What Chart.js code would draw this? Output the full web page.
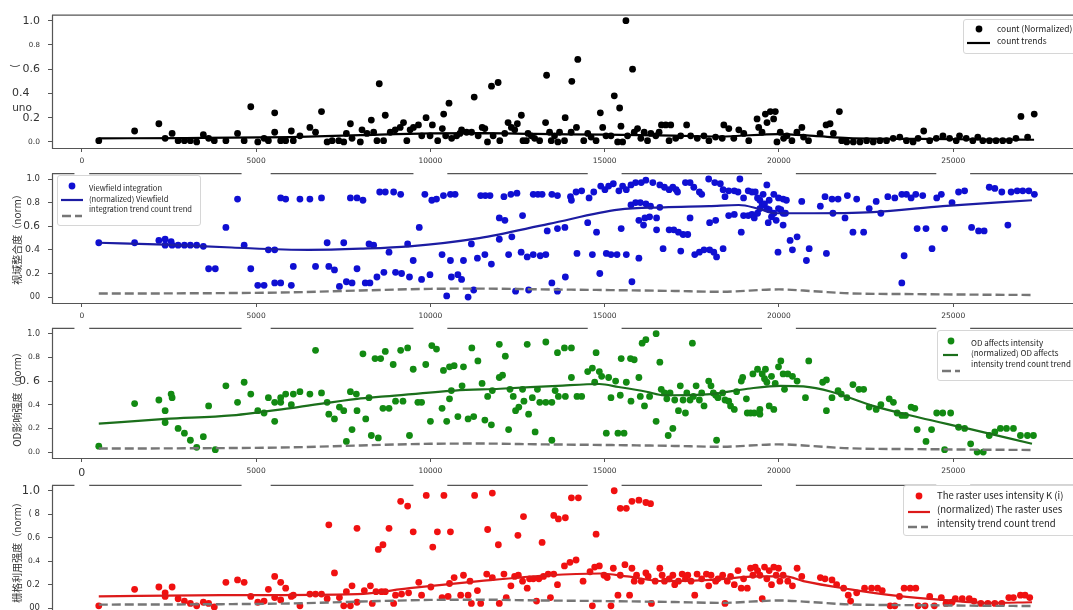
<!DOCTYPE html>
<html>
<head>
<meta charset="utf-8">
<script src="https://cdn.jsdelivr.net/npm/chart.js@4.4.1/dist/chart.umd.min.js"></script>
<style>
  body { margin: 0; background: #fff; overflow: hidden; width: 1073px; height: 610px; position: relative; }
  canvas { position: absolute; left: 0; }
</style>
</head>
<body>
<canvas id="p1" width="1085" height="172" style="top:0px;z-index:4"></canvas>
<canvas id="p2" width="1085" height="167" style="top:160px;z-index:3"></canvas>
<canvas id="p3" width="1085" height="167" style="top:315px;z-index:2"></canvas>
<canvas id="p4" width="1085" height="168" style="top:470px;z-index:1"></canvas>
<script>
// shared axes
var xTicks = [0, 5000, 10000, 15000, 20000, 25000];
var yTicks = [0, 0.2, 0.4, 0.6, 0.8, 1.0];

// count (normalized) per position
var countPts = [[486,0.01],[1514,0.09],[2210,0.15],[2390,0.03],[2590,0.07],[2762,0.01],[2943,0.01],[3114,0.01],[3295,0.00],[3486,0.06],[3638,0.03],[3800,0.01],[4133,0.01],[4467,0.07],[4657,0.01],[4847,0.29],[5048,0.00],[5228,0.03],[5352,0.01],[5533,0.24],[5533,0.08],[5705,0.01],[5848,0.01],[6010,0.09],[6067,0.01],[6257,0.05],[6543,0.12],[6705,0.08],[6876,0.25],[7038,0.00],[7181,0.01],[7371,0.01],[7514,0.00],[7590,0.07],[7705,0.15],[7752,0.03],
 [7990,0.00],[8038,0.10],[8181,0.07],[8305,0.18],[8372,0.08],[8467,0.01],[8533,0.48],[8657,0.01],[8705,0.22],[8848,0.08],[8991,0.10],[9134,0.12],[9229,0.16],[9324,0.01],[9419,0.10],[9514,0.12],[9657,0.14],[9753,0.05],[9876,0.20],[9991,0.05],[10057,0.14],[10210,0.01],[10343,0.11],[10381,0.23],[10438,0.05],[10534,0.32],[10610,0.03],[10753,0.05],[10848,0.07],[10895,0.10],[11038,0.08],[11181,0.08],[11257,0.37],[11371,0.05],[11486,0.12],[11562,0.11],[11638,0.00],[11753,0.46],[11800,0.05],[11943,0.49],[11991,0.01],[12134,0.07],[12229,0.16],[12324,0.12],[12419,0.10],[12495,0.15],[12610,0.22],[12657,0.01],[12752,0.01],[12800,0.07],[12895,0.05],[12991,0.03],[13134,0.01],[13305,0.16],[13334,0.55],[13419,0.08],[13467,0.01],[13562,0.05],[13657,0.00],[13705,0.08],[13848,0.01],[13867,0.20],[14038,0.08],[14057,0.50],[14191,0.12],[14229,0.68],[14400,0.01],[14515,0.07],[14610,0.04],[14753,0.01],[14876,0.24],[14943,0.12],[15038,0.05],[15181,0.05],[15276,0.38],[15372,0.00],[15429,0.28],[15467,0.13],[15515,0.00],[15610,1.00],[15657,0.05],[15800,0.60],[15848,0.08],[15943,0.11],[16038,0.03],[16134,0.08],[16229,0.01],[16324,0.07],[16467,0.05],[16562,0.08],[16629,0.14],[16753,0.14],[16848,0.01],[16896,0.14],[17038,0.03],[17181,0.05],[17352,0.14],[17467,0.05],[17657,0.03],[17848,0.05],[17991,0.01],[18181,0.04],
 [18372,0.03],[18419,0.14],[18562,0.11],[18705,0.03],[18848,0.10],[18991,0.07],[19134,0.01],[19372,0.19],[19419,0.12],[19515,0.08],[19610,0.23],[19657,0.16],[19753,0.25],[19848,0.19],[19896,0.25],[19943,0.00],[20038,0.08],[20134,0.03],[20229,0.05],[20372,0.01],[20515,0.08],[20658,0.12],[20705,0.04],[20848,0.01],[21181,0.07],[21353,0.14],[21467,0.15],[21562,0.07],[21734,0.25],[21800,0.01],[21943,0.00],[22134,0.00],[22324,0.00],[22515,0.01],[22705,0.00],[22896,0.01],[23086,0.01],[23277,0.03],[23467,0.04],[23658,0.01],[23848,0.00],[23991,0.03],[24153,0.09],[24324,0.01],[24515,0.03],[24705,0.05],[24896,0.03],[25086,0.01],[25181,0.05],[25372,0.03],[25562,0.01],[25705,0.04],[25848,0.01],[26039,0.01],[26229,0.01],[26420,0.01],[26610,0.01],[26800,0.03],[26943,0.21],[27134,0.04],[27324,0.23]];
var countTrend = [[486,0.03],[3000,0.032],[6000,0.04],[8000,0.056],[10000,0.07],[11500,0.072],[13000,0.066],[15000,0.06],[17000,0.052],[18300,0.045],[20000,0.065],[21000,0.05],[22000,0.032],[24000,0.025],[26000,0.02],[27320,0.018]];

// 视域整合度
var viewPts = [[486,0.46],[1514,0.46],[2210,0.48],[2390,0.49],[2390,0.44],[2562,0.47],[2590,0.44],[2762,0.44],[2943,0.44],[3114,0.44],[3295,0.44],[3486,0.43],[3638,0.24],[3829,0.24],[4133,0.59],[4467,0.83],[4657,0.44],[4847,0.24],[5048,0.10],[5228,0.10],[5352,0.40],[5533,0.40],[5533,0.12],[5705,0.84],[5705,0.12],[5848,0.83],[6010,0.10],[6067,0.26],[6257,0.83],[6543,0.83],[6705,0.26],[6876,0.84],[7038,0.46],[7086,0.26],[7248,0.23],[7390,0.09],[7514,0.46],[7590,0.13],[7705,0.84],[7752,0.12],[7895,0.84],[7895,0.24],
 [8065,0.82],[8546,0.89],[8706,0.89],[8946,0.89],[9147,0.87],[9841,0.87],[10041,0.82],[10175,0.83],[10375,0.86],[10575,0.87],[10709,0.87],[11443,0.86],[11576,0.86],[11710,0.86],[12110,0.85],[12310,0.87],[12484,0.88],[12951,0.87],[13085,0.87],[13205,0.87],[13485,0.87],[13646,0.86],[14019,0.85],[14046,0.82],[14180,0.89],[14340,0.90],[14553,0.84],[14687,0.89],[14887,0.94],[15007,0.91],[15114,0.94],[15248,0.96],[15408,0.90],[15515,0.94],[15621,0.91],[15755,0.95],[15888,0.97],[16049,0.97],[16182,0.99],[16382,0.97],[16583,0.95],[16716,0.93],[16850,0.91],[16956,0.93],[17050,0.91],[17090,0.89],[17317,0.97],[17450,0.97],[17557,0.93],[17717,0.89],[17784,0.87],[17984,1.00],[18158,0.97],[18318,0.96],[18398,0.91],[18452,0.85],[18558,0.90],[18719,0.90],[18825,0.89],[18879,1.00],[18985,0.84],[19119,0.90],[19225,0.89],[19320,0.89],[19386,0.84],[19453,0.82],[19546,0.87],[19653,0.95],[19720,0.82],[19853,0.87],[19987,0.84],[20120,0.83],[20214,0.82],[20654,0.81],[21188,0.77],[21322,0.85],[21522,0.83],[21696,0.83],[21963,0.86],[22230,0.83],[22590,0.75],[22790,0.81],[23124,0.85],[23324,0.84],[23525,0.87],[23658,0.87],[23792,0.84],[23925,0.87],[24125,0.86],[24526,0.84],[24659,0.87],[24966,0.80],[25153,0.89],[25327,0.90],[26034,0.93],[26194,0.92],[26394,0.89],[26661,0.89],[26835,0.90],[26995,0.90],[27169,0.90],[27329,0.87],
 [11977,0.67],[12137,0.65],[12644,0.69],[15755,0.78],[15888,0.80],[16022,0.80],[16182,0.79],[16316,0.77],[16583,0.76],[15982,0.65],[16155,0.67],[16289,0.68],[16489,0.67],[17450,0.67],[18011,0.63],[18185,0.65],[18558,0.69],[18719,0.70],[18985,0.69],[19119,0.69],[19225,0.70],[19292,0.67],[19386,0.71],[19453,0.75],[19520,0.78],[19586,0.79],[19653,0.75],[19720,0.74],[19786,0.68],[19853,0.71],[19920,0.65],[19987,0.75],[20054,0.74],[20120,0.71],[20187,0.71],[21549,0.71],[21896,0.67],[22924,0.71],
 [9681,0.59],[13352,0.56],[13646,0.58],[13859,0.59],[14513,0.63],[14767,0.55],[15474,0.58],[16115,0.61],[16489,0.57],[16850,0.57],[16983,0.57],[17117,0.55],[17250,0.53],[17384,0.53],[18919,0.55],[19693,0.63],[20120,0.61],[22123,0.55],[22430,0.55],[23965,0.58],[24219,0.58],[24753,0.58],[25527,0.59],[25727,0.56],[25887,0.56],[26568,0.61],
 [8239,0.45],[8372,0.44],[8813,0.38],[9347,0.45],[9507,0.31],[10335,0.36],[10575,0.31],[10949,0.31],[11176,0.45],[11349,0.33],[11563,0.36],[11750,0.28],[11977,0.49],[12244,0.36],[12337,0.51],[12604,0.38],[12778,0.34],[12951,0.36],[13152,0.35],[13312,0.36],[14206,0.37],[14647,0.36],[15047,0.37],[15181,0.36],[15354,0.36],[15621,0.36],[15982,0.33],[16676,0.41],[17183,0.39],[17584,0.36],[17717,0.38],[17851,0.40],[18011,0.40],[18131,0.38],[18211,0.34],[18398,0.41],[19973,0.38],[20320,0.48],[20387,0.40],[20521,0.51],[20788,0.31],[20868,0.41],[21362,0.37],[23591,0.35],[24392,0.41],
 [8132,0.12],[8265,0.12],[8466,0.17],[8666,0.21],[9000,0.21],[9173,0.20],[9400,0.17],[9747,0.15],[9988,0.19],[10602,0.17],[10789,0.19],[10895,0.15],[13485,0.12],[13872,0.17],[14860,0.20],[15782,0.13],[23525,0.12],
 [10468,0.01],[11082,0.00],[11242,0.06],[12444,0.05],[12818,0.06],[13646,0.05]];
var viewTrend = [[486,0.46],[2400,0.445],[4300,0.42],[6500,0.40],[8000,0.41],[9400,0.43],[11400,0.50],[13400,0.62],[15400,0.74],[16700,0.76],[18000,0.77],[18850,0.78],[19400,0.75],[19900,0.71],[20700,0.71],[22700,0.72],[24700,0.77],[27260,0.82]];

// OD影响强度
var odPts = [[486,0.05],[1514,0.41],[2210,0.44],[2390,0.35],[2390,0.25],[2562,0.49],[2590,0.46],[2762,0.20],[2943,0.16],[3114,0.10],[3295,0.04],[3486,0.13],[3638,0.39],[3829,0.02],[4133,0.56],[4467,0.42],[4657,0.59],[4847,0.49],[5048,0.35],[5228,0.33],[5352,0.46],[5533,0.42],[5533,0.26],[5705,0.46],[5705,0.42],[5848,0.49],[6010,0.40],[6067,0.49],[6257,0.51],[6543,0.49],[6705,0.86],[6876,0.50],[7038,0.42],[7086,0.32],[7248,0.28],[7390,0.38],[7514,0.35],[7590,0.09],[7705,0.51],[7752,0.19],[7876,0.49],[7895,0.35],
 [8065,0.83],[8145,0.28],[8239,0.46],[8306,0.14],[8412,0.79],[8506,0.12],[8573,0.79],[8639,0.37],[8706,0.85],[8813,0.37],[8933,0.74],[9000,0.43],[9147,0.86],[9213,0.43],[9347,0.88],[9400,0.14],[9507,0.70],[9641,0.42],[9747,0.42],[9867,0.74],[10001,0.26],[10041,0.90],[10175,0.87],[10335,0.37],[10375,0.69],[10468,0.26],[10548,0.45],[10548,0.72],[10602,0.52],[10682,0.73],[10789,0.30],[10909,0.56],[10949,0.72],[11082,0.28],[11189,0.88],[11242,0.30],[11363,0.77],[11483,0.58],[11563,0.27],[11643,0.47],[11750,0.23],[11777,0.52],[11977,0.63],[11977,0.91],[12070,0.65],[12150,0.81],[12244,0.19],[12284,0.53],[12377,0.47],[12444,0.35],[12537,0.38],[12644,0.53],[12684,0.43],[12778,0.91],[12818,0.32],[12925,0.46],[13005,0.17],[13071,0.53],[13138,0.42],[13312,0.93],[13312,0.42],[13485,0.42],[13485,0.10],[13579,0.52],[13646,0.84],[13672,0.47],[13846,0.88],[13872,0.47],[14046,0.88],[14046,0.63],[14206,0.47],[14340,0.47],[14513,0.68],[14647,0.71],[14714,0.59],[14754,0.84],[14847,0.68],[14914,0.64],[15047,0.16],[15114,0.63],[15181,0.46],[15314,0.60],[15381,0.16],[15448,0.48],[15474,0.79],[15555,0.16],[15621,0.59],[15741,0.79],[15755,0.43],[15848,0.78],[15982,0.63],[16022,0.47],[16075,0.92],[16142,0.39],[16182,0.95],[16289,0.47],[16476,1.00],[16476,0.26],[16583,0.76],[16623,0.53],[16716,0.50],[16783,0.45],[16823,0.14],[16876,0.50],[16956,0.20],[17010,0.44],[17117,0.35],[17170,0.56],[17250,0.44],[17317,0.33],[17357,0.50],[17450,0.44],[17517,0.92],[17544,0.47],[17624,0.56],[17717,0.44],[17784,0.50],[17851,0.39],[17984,0.60],[18051,0.56],[18118,0.50],[18185,0.48],[18211,0.10],[18251,0.46],[18385,0.50],[18452,0.44],[18558,0.43],[18612,0.39],[18719,0.36],[18785,0.51],[18919,0.60],[18959,0.63],[19066,0.45],[19092,0.33],[19186,0.33],[19253,0.66],[19292,0.33],[19386,0.70],[19453,0.36],[19453,0.32],[19520,0.66],[19586,0.62],[19613,0.70],[19653,0.59],[19720,0.39],[19786,0.64],[19853,0.36],[19893,0.58],[19987,0.72],[20054,0.77],[20120,0.66],[20160,0.53],[20254,0.66],[20387,0.64],[20521,0.60],[20761,0.46],[20855,0.77],[21255,0.59],[21362,0.61],[21362,0.35],[21522,0.46],[21696,0.52],[21789,0.49],[21949,0.46],[22123,0.57],[22296,0.53],[22430,0.53],[22590,0.38],[22790,0.36],[22924,0.40],[23164,0.45],[23284,0.42],[23391,0.33],[23525,0.31],[23631,0.31],[23792,0.38],[23898,0.37],[23965,0.19],[24219,0.09],[24379,0.19],[24526,0.33],[24699,0.33],[24753,0.02],[24926,0.33],[25153,0.21],[25327,0.20],[25500,0.07],[25687,0.00],[25861,0.00],[26034,0.14],[26194,0.17],[26354,0.20],[26528,0.20],[26728,0.20],[26928,0.14],[27129,0.14],[27302,0.14]];
var odTrend = [[486,0.24],[2400,0.28],[4300,0.31],[6200,0.38],[7900,0.45],[8700,0.47],[10700,0.52],[12000,0.535],[13650,0.56],[14850,0.575],[15400,0.55],[16200,0.51],[16700,0.48],[18050,0.49],[19100,0.535],[20050,0.56],[20700,0.555],[21500,0.51],[22700,0.39],[24050,0.29],[25400,0.20],[27260,0.07]];

// 栅格利用强度
var rasterPts = [[486,0.02],[1514,0.16],[2210,0.18],[2390,0.13],[2390,0.10],[2590,0.18],[2762,0.08],[2943,0.06],[3114,0.04],[3295,0.02],[3486,0.05],[3638,0.04],[3800,0.01],[4133,0.22],[4467,0.24],[4657,0.22],[4847,0.10],[5048,0.05],[5228,0.06],[5352,0.16],[5533,0.27],[5533,0.09],[5705,0.22],[5705,0.07],[5848,0.17],[6010,0.10],[6067,0.11],[6257,0.02],[6543,0.12],[6705,0.12],[6876,0.12],[7038,0.08],[7086,0.71],[7248,0.30],[7390,0.09],[7514,0.02],[7590,0.14],[7705,0.02],[7752,0.19],[7895,0.68],[7895,0.05],
 [8506,0.50],[8639,0.54],[8813,0.68],[9147,0.91],[9347,0.87],[9507,0.65],[9881,0.96],[10068,0.52],[10201,0.65],[10388,0.96],[10575,0.65],[11269,0.96],[11643,0.67],[11777,0.98],[11950,0.54],[12511,0.62],[12671,0.78],[13205,0.56],[13539,0.79],[13672,0.76],[13872,0.77],[14046,0.94],[14246,0.94],[14754,0.63],[15274,1.00],[15448,0.85],[15621,0.85],[15782,0.91],[15982,0.92],[16182,0.90],[16316,0.89],
 [8105,0.15],[8279,0.19],[8332,0.04],[8439,0.14],[8599,0.14],[8706,0.14],[8946,0.04],[9000,0.11],[9173,0.12],[9374,0.13],[9667,0.22],[9747,0.11],[10014,0.18],[10335,0.09],[10508,0.10],[10548,0.21],[10682,0.26],[10869,0.11],[10949,0.28],[11082,0.11],[11136,0.23],[11176,0.04],[11349,0.15],[11443,0.04],[11616,0.29],[11777,0.26],[11977,0.04],[12110,0.29],[12177,0.09],[12310,0.19],[12417,0.27],[12524,0.28],[12644,0.23],[12778,0.17],[12845,0.25],[12951,0.25],[13045,0.06],[13112,0.25],[13245,0.27],[13379,0.29],[13445,0.09],[13539,0.29],[13646,0.20],[13846,0.36],[14006,0.39],[14180,0.41],[14380,0.23],[14580,0.31],[14647,0.02],[14714,0.35],[14847,0.36],[14981,0.28],[15074,0.26],[15181,0.02],[15248,0.34],[15381,0.11],[15448,0.28],[15581,0.37],[15715,0.11],[15782,0.34],[15848,0.23],[15915,0.28],[16049,0.23],[16182,0.30],[16249,0.27],[16342,0.04],[16449,0.23],[16583,0.34],[16649,0.28],[16716,0.23],[16850,0.25],[16956,0.28],[17010,0.20],[17117,0.23],[17223,0.29],[17317,0.25],[17384,0.28],[17477,0.23],[17584,0.11],[17651,0.29],[17784,0.25],[17918,0.29],[17984,0.19],[18051,0.28],[18185,0.23],[18251,0.25],[18385,0.28],[18452,0.04],[18518,0.23],[18612,0.27],[18719,0.20],[18825,0.32],[18919,0.17],[18985,0.25],[19092,0.17],[19186,0.34],[19253,0.28],[19320,0.35],[19386,0.32],[19453,0.28],[19520,0.08],[19586,0.35],[19653,0.25],[19720,0.32],[19786,0.20],[19853,0.35],[19920,0.28],[19987,0.34],[20027,0.23],[20120,0.28],[20254,0.23],[20387,0.19],[20521,0.34],[20654,0.27],[21188,0.26],[21322,0.25],[21522,0.24],[21655,0.20],[21856,0.17],[21989,0.11],[22056,0.06],[22230,0.13],[22457,0.17],[22657,0.17],[22830,0.17],[22964,0.15],[23191,0.02],[23324,0.02],[23458,0.10],[23591,0.17],[23765,0.17],[23925,0.17],[23992,0.02],[24192,0.02],[24325,0.10],[24459,0.02],[24659,0.09],[24793,0.04],[24966,0.05],[25060,0.08],[25260,0.08],[25460,0.08],[25594,0.06],[25794,0.04],[25994,0.04],[26194,0.04],[26394,0.04],[26595,0.09],[26728,0.09],[26928,0.11],[27061,0.11],[27195,0.09]];
var rasterTrend = [[486,0.10],[4000,0.11],[7900,0.12],[9400,0.17],[11400,0.23],[13400,0.28],[14850,0.295],[15650,0.27],[16700,0.23],[18050,0.24],[19400,0.27],[20200,0.27],[20700,0.23],[22050,0.16],[23400,0.105],[24700,0.07],[26050,0.045],[27260,0.05]];

// tick texts, bottom to top
var yLabels1 = ['0.0', '0.2', '0.4   ', '0.6', '0.8', '1.0'];
var yLabels2 = ['00', '0.2', '0.4', '0.6', '0.8', '1.0'];
var yLabels3 = ['0.0', '0.2', '0.4', '0. 6', '0.8', '1.0'];
var yLabels4 = ['00', '0.2', '0.4', '0.6', '( 8', '1.0'];

var legend1 = ['count (Normalized)', 'count trends'];
var legend2 = ['Viewfield integration', '(normalized) Viewfield', 'integration trend count trend'];
var legend3 = ['OD affects intensity', '(normalized) OD affects', 'intensity trend count trend'];
var legend4 = ['The raster uses intensity K (i)', '(normalized) The raster uses', 'intensity trend count trend'];

var titles = ['视域整合度（norm）', 'OD影响强度（norm）', '栅格利用强度（norm）'];

var xMin = -856, xMax = 28666;
var CJK = '"Noto Sans CJK SC"';

function pts(a) { return a.map(function (p) { return { x: p[0], y: p[1] }; }); }

function dots(a, color) {
  return { data: pts(a), backgroundColor: color, borderWidth: 0, pointRadius: 3.4, order: 2 };
}
function trend(a, color, width, dash) {
  return { data: pts(a), showLine: true, borderColor: color, borderWidth: width, borderDash: dash || [],
           pointRadius: 0, cubicInterpolationMode: 'monotone', order: 1 };
}

// axes box; panels below the first leave holes in the top edge
// where the x labels of the panel above sit
var frame = {
  id: 'frame',
  beforeDatasetsDraw: function (chart, args, o) {
    var a = chart.chartArea, ctx = chart.ctx;
    ctx.save();
    ctx.strokeStyle = '#555';
    ctx.lineWidth = 1.2;
    ctx.beginPath();
    ctx.moveTo(a.left + 0.5, a.top + 0.5);
    ctx.lineTo(a.left + 0.5, a.bottom + 0.5);
    ctx.lineTo(a.right + 0.5, a.bottom + 0.5);
    ctx.lineTo(a.right + 0.5, a.top + 0.5);
    ctx.stroke();
    var cuts = [];
    if (o.gaps) {
      ctx.font = '7.5px "DejaVu Sans"';
      xTicks.forEach(function (v) {
        var px = chart.scales.x.getPixelForValue(v);
        var half = ctx.measureText(String(v)).width / 2 + 5;
        cuts.push([px - half, px + half]);
      });
    }
    var x0 = a.left;
    ctx.beginPath();
    cuts.forEach(function (c) {
      ctx.moveTo(x0, a.top + 0.5);
      ctx.lineTo(c[0], a.top + 0.5);
      x0 = c[1];
    });
    ctx.moveTo(x0, a.top + 0.5);
    ctx.lineTo(a.right + 0.5, a.top + 0.5);
    ctx.stroke();
    ctx.restore();
  }
};

// hand drawn legend box
var legendBox = {
  id: 'legendBox',
  afterDraw: function (chart, args, o) {
    if (!o.texts) return;
    var ctx = chart.ctx;
    ctx.save();
    ctx.fillStyle = 'rgba(255,255,255,0.9)';
    ctx.strokeStyle = '#d6d6d6';
    ctx.lineWidth = 1;
    ctx.beginPath();
    ctx.roundRect(o.x + 0.5, o.y + 0.5, o.w, o.h, 2.5);
    ctx.fill();
    ctx.stroke();
    ctx.font = o.size + 'px ' + CJK;
    ctx.textBaseline = 'middle';
    ctx.fillStyle = '#222';
    o.texts.forEach(function (t) { ctx.fillText(t[0], o.tx, t[1]); });
    o.marks.forEach(function (m) {
      var ds = chart.data.datasets[m.ds];
      if (m.dot) {
        ctx.fillStyle = ds.backgroundColor;
        ctx.beginPath();
        ctx.arc(m.x, m.y, 3.4, 0, Math.PI * 2);
        ctx.fill();
      } else {
        ctx.strokeStyle = ds.borderColor;
        ctx.lineWidth = ds.borderWidth;
        ctx.setLineDash(ds.borderDash);
        ctx.beginPath();
        ctx.moveTo(m.x, m.y);
        ctx.lineTo(m.x2, m.y);
        ctx.stroke();
        ctx.setLineDash([]);
      }
    });
    ctx.restore();
  }
};

// y titles and stray label bits
var sideText = {
  id: 'sideText',
  afterDraw: function (chart, args, o) {
    var ctx = chart.ctx;
    (o.items || []).forEach(function (t) {
      ctx.save();
      ctx.translate(t.x, t.y);
      if (t.rot) ctx.rotate(t.rot * Math.PI / 180);
      ctx.font = t.size + 'px ' + (t.family || CJK);
      ctx.fillStyle = '#333';
      ctx.textAlign = 'center';
      ctx.textBaseline = 'middle';
      ctx.fillText(t.text, 0, 0);
      ctx.restore();
    });
  }
};

function panel(id, padTop, sets, yLab, ySizes, xSizes, legend, side, gaps) {
  return new Chart(document.getElementById(id), {
    type: 'scatter',
    data: { datasets: sets },
    options: {
      responsive: false,
      animation: false,
      devicePixelRatio: 1,
      layout: { padding: { top: padTop, left: 0, right: 0, bottom: 0 } },
      plugins: {
        legend: { display: false },
        tooltip: { enabled: false },
        frame: { gaps: gaps },
        legendBox: legend,
        sideText: { items: side }
      },
      scales: {
        x: {
          type: 'linear', min: xMin, max: xMax,
          afterBuildTicks: function (a) { a.ticks = xTicks.map(function (v) { return { value: v }; }); },
          afterFit: function (s) { s.height = 24; },
          grid: { display: true, drawOnChartArea: false, drawTicks: true, tickLength: 4, tickColor: '#555' },
          border: { display: false },
          ticks: {
            padding: 5, color: '#333', maxRotation: 0, autoSkip: false,
            font: function (c) { return { family: 'DejaVu Sans', size: xSizes[c.index] || 7.5 }; },
            callback: function (v) { return String(v); }
          }
        },
        y: {
          type: 'linear', min: -0.05, max: 1.05,
          afterBuildTicks: function (a) { a.ticks = yTicks.map(function (v) { return { value: v }; }); },
          afterFit: function (s) { s.width = 52; },
          grid: { display: true, drawOnChartArea: false, drawTicks: true, tickLength: 4, tickColor: '#555' },
          border: { display: false },
          ticks: {
            padding: 8, color: '#333',
            font: function (c) { return { family: 'DejaVu Sans', size: ySizes[c.index] }; },
            callback: function (v, i) { return yLab[i]; }
          }
        }
      }
    },
    plugins: [frame, legendBox, sideText]
  });
}

var gray = '#767676';

panel('p1', 14,
  [dots(countPts, '#000'), trend(countTrend, '#000', 2.2)],
  yLabels1, [7.5, 11, 11, 11, 7, 11], [],
  { x: 963, y: 19, w: 130, h: 34, tx: 997, size: 8.4,
    texts: [[legend1[0], 29], [legend1[1], 41]],
    marks: [{ ds: 0, dot: true, x: 979, y: 29 }, { ds: 1, x: 967, x2: 990, y: 43 }] },
  [{ text: '(', x: 14, y: 66, rot: -90, size: 10 }, { text: 'uno', x: 22, y: 108, size: 10.5, family: 'DejaVu Sans' }],
  false);

panel('p2', 9,
  [dots(viewPts, '#0f0fd2'), trend(viewTrend, '#1c1ca2', 2.2), trend(countTrend, gray, 2.4, [9, 4])],
  yLabels2, [8, 9, 9.5, 10.5, 8.5, 8.5], [],
  { x: 57, y: 15, w: 143, h: 50, tx: 89, size: 7.6,
    texts: [[legend2[0], 28], [legend2[1], 39], [legend2[2], 49]],
    marks: [{ ds: 0, dot: true, x: 72, y: 26 }, { ds: 1, x: 61, x2: 83, y: 40 }, { ds: 2, x: 62, x2: 82, y: 56 }] },
  [{ text: titles[0], x: 17, y: 77, rot: -90, size: 10 }],
  true);

panel('p3', 9,
  [dots(odPts, '#128a12'), trend(odTrend, '#1b6f1b', 2.2), trend(countTrend, gray, 2.4, [9, 4])],
  yLabels3, [7.5, 7.5, 7.5, 11, 7.5, 8], [11],
  { x: 937, y: 15, w: 150, h: 50, tx: 971, size: 8,
    texts: [[legend3[0], 28], [legend3[1], 38], [legend3[2], 49]],
    marks: [{ ds: 0, dot: true, x: 951, y: 26 }, { ds: 1, x: 943, x2: 958, y: 40 }, { ds: 2, x: 942, x2: 960, y: 56 }] },
  [{ text: titles[1], x: 17, y: 82, rot: -90, size: 10 }],
  true);

panel('p4', 10,
  [dots(rasterPts, '#f01010'), trend(rasterTrend, '#dc1a1a', 2.2), trend(countTrend, gray, 2.4, [9, 4])],
  yLabels4, [8.5, 8.5, 7.5, 8, 8.5, 11.5], [],
  { x: 903, y: 15, w: 180, h: 50, tx: 937, size: 9.5,
    texts: [[legend4[0], 25], [legend4[1], 39], [legend4[2], 53]],
    marks: [{ ds: 0, dot: true, x: 919, y: 26 }, { ds: 1, x: 908, x2: 930, y: 42 }, { ds: 2, x: 908, x2: 928, y: 57 }] },
  [{ text: titles[2], x: 17, y: 80, rot: -90, size: 10 }],
  true);
</script>
</body>
</html>
